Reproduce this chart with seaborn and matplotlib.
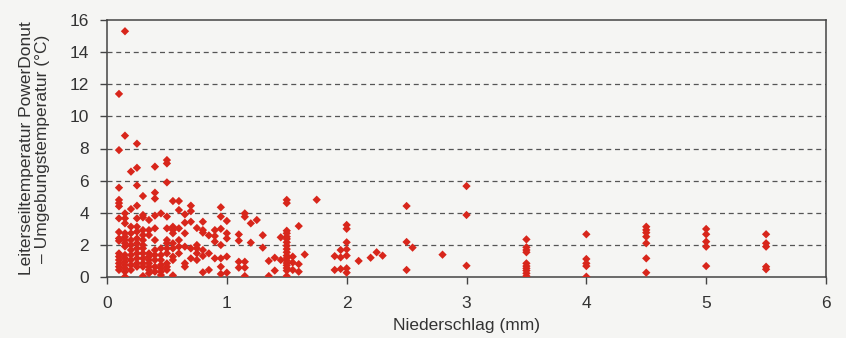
import numpy as np
import pandas as pd
import matplotlib
matplotlib.use("Agg")
import matplotlib.pyplot as plt
import seaborn as sns

# Niederschlag (mm) column positions and the temperature differences read per column
precip = [0.1, 0.15, 0.2, 0.25, 0.3, 0.35, 0.4, 0.45, 0.5, 0.55,
          0.6, 0.65, 0.7, 0.75, 0.8, 0.85, 0.9, 0.95, 1.0, 1.1,
          1.15, 1.2, 1.25, 1.3, 1.35, 1.4, 1.45, 1.5, 1.55, 1.6,
          1.65, 1.75, 1.9, 1.95, 2.0, 2.1, 2.2, 2.25, 2.3, 2.5,
          2.55, 2.8, 3.0, 3.5, 4.0, 4.5, 5.0, 5.5]

temp_diff = [
    [11.4, 7.9, 5.56, 4.8, 4.6, 4.4, 3.65, 2.8, 2.4, 2.25, 1.47, 1.27, 1.06, 0.85, 0.64, 0.44],
    [15.3, 8.8, 3.96, 3.65, 3.34, 2.72, 2.5, 2.3, 2.1, 1.9, 1.37, 1.16, 0.95, 0.75, 0.54, 0.33, 0.02],
    [6.56, 4.23, 3.13, 2.72, 2.3, 1.99, 1.68, 1.37, 1.06, 0.75, 0.44],
    [8.3, 6.8, 5.7, 4.44, 3.65, 3.13, 2.82, 2.4, 2.1, 1.78, 1.47, 1.16, 0.85, 0.64],
    [5.04, 3.86, 3.71, 2.92, 2.61, 2.3, 1.99, 1.78, 1.47, 1.16, 0.85, 0.64, 0.06],
    [3.55, 2.92, 2.61, 1.47, 1.27, 1.06, 0.85, 0.64, 0.44, 0.23],
    [6.87, 5.25, 4.88, 3.82, 3.03, 2.3, 1.68, 1.37, 1.06, 0.64, 0.33],
    [3.96, 1.78, 1.37, 1.06, 0.75, 0.54, 0.33, 0.12],
    [7.28, 7.07, 5.89, 3.76, 3.03, 2.3, 2.1, 1.78, 1.47, 0.85, 0.64, 0.44],
    [4.73, 3.13, 2.92, 2.72, 2.1, 1.78, 1.27, 1.06, 0.1],
    [4.73, 4.17, 3.03, 2.3, 1.89, 1.47],
    [3.9, 3.38, 2.72, 1.89, 0.85, 0.64],
    [4.44, 4.1, 3.44, 1.78, 1.16],
    [3.05, 1.99, 1.78, 1.47, 1.06],
    [3.44, 2.92, 2.76, 1.68, 1.31, 0.29],
    [2.59, 1.47, 0.44],
    [2.92, 2.55, 2.2, 1.16],
    [4.34, 3.76, 3.0, 1.99, 1.16, 0.64, 0.19],
    [3.49, 2.72, 2.4, 1.27, 0.27],
    [2.65, 2.26, 0.95, 0.58],
    [3.96, 3.75, 0.95, 0.58, 0.06],
    [3.34, 2.14],
    [3.55],
    [2.6, 1.83],
    [1.0, 0.06],
    [1.2, 0.4],
    [2.47, 1.06],
    [4.8, 4.6, 2.88, 2.72, 2.51, 2.37, 2.16, 1.95, 1.74, 1.54, 1.33, 1.18, 1.02, 0.87, 0.73, 0.56, 0.4, 0.06],
    [1.27, 0.9, 0.44],
    [3.17, 0.8, 0.33],
    [1.4],
    [4.81],
    [1.3, 0.44],
    [1.68, 1.22, 0.5],
    [3.24, 3.0, 2.16, 1.72, 1.33, 0.54, 0.27],
    [1.0],
    [1.2],
    [1.54],
    [1.33],
    [4.42, 2.18, 0.44],
    [1.83],
    [1.39],
    [5.66, 3.86, 0.7],
    [2.34, 1.85, 1.68, 1.54, 0.85, 0.68, 0.54, 0.4, 0.23, 0.06],
    [2.66, 1.12, 0.85, 0.68, 0.02],
    [3.13, 2.93, 2.76, 2.51, 2.1, 1.16, 0.27],
    [2.99, 2.66, 2.2, 1.89, 0.68],
    [2.66, 2.1, 1.89, 0.64, 0.48],
]

x_ticks = [0, 1, 2, 3, 4, 5, 6]
y_ticks = [0, 2, 4, 6, 8, 10, 12, 14, 16]

df = pd.DataFrame({
    "Niederschlag": np.repeat(precip, [len(v) for v in temp_diff]),
    "Delta": np.concatenate(temp_diff),
})

sns.set_style("ticks")
plt.rcParams["font.family"] = ["Liberation Sans Narrow", "Liberation Sans", "DejaVu Sans"]

bg = "#f5f5f3"
fig = plt.figure(figsize=(8.46, 3.38), dpi=100, facecolor=bg)
ax = fig.add_axes([107 / 846, 1 - 277 / 338, (826 - 107) / 846, (277 - 20) / 338])
ax.set_facecolor(bg)

sns.scatterplot(data=df, x="Niederschlag", y="Delta", ax=ax, marker="D",
                s=18, color="#d8261b", edgecolor="none", zorder=3)

ax.set_xlim(0, 6)
ax.set_ylim(0, 16)
ax.set_xticks(x_ticks)
ax.set_yticks(y_ticks)
for yv in y_ticks[1:-1]:
    ax.axhline(yv, color="#555555", lw=0.9, ls=(0, (4, 3)), zorder=1)

for sp in ax.spines.values():
    sp.set_visible(True)
    sp.set_color("#444444")
    sp.set_linewidth(1.1)

ax.tick_params(axis="both", direction="out", length=5, width=1, color="#444444",
               labelsize=12.5, labelcolor="#333333")
ax.tick_params(axis="x", pad=9)
ax.tick_params(axis="y", pad=8)

ax.set_xlabel("Niederschlag (mm)", fontsize=12.5, color="#333333", labelpad=5)
ax.set_ylabel("Leiterseiltemperatur PowerDonut\n– Umgebungstemperatur (°C)",
              fontsize=12.5, color="#333333", labelpad=14, linespacing=1.1)

fig.savefig("out.png", dpi=100, facecolor=bg)
